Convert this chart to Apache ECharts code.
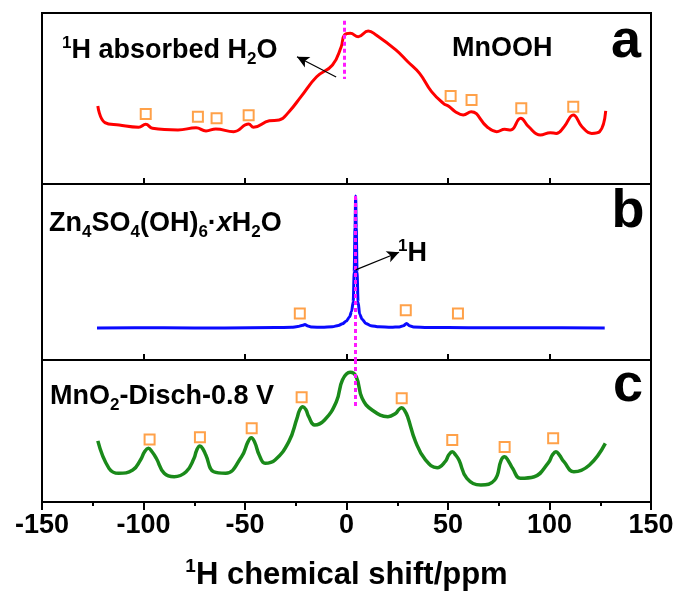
<!DOCTYPE html>
<html>
<head>
<meta charset="utf-8">
<script src="https://cdn.jsdelivr.net/npm/echarts@6/dist/echarts.min.js"></script>
<style>
  html, body { margin: 0; padding: 0; background: #fff; }
  #chart { width: 681px; height: 592px; }
</style>
</head>
<body>
<div id="chart"></div>
<script>
// 1H NMR spectra (chemical shift in ppm, intensity in arbitrary units 0-100 per panel)

// (a) MnOOH
const shiftA = [-122.5, -119, -112, -102.4, -98.9, -95.6, -83, -74.1, -69.2, -64.4, -55.6, -48.2, -45.8, -38, -33.2, -28.3, -22.4, -14.7, -6.9, -2.6, -1.0, 1.9, 5.8, 10.7, 14.6, 24.3, 30.2, 36, 41.9, 47.7, 50.7, 53.6, 57.5, 61.4, 69.2, 74, 77.9, 80.9, 85.8, 89.7, 95.5, 100.4, 103.3, 107.2, 111.7, 116, 120.8, 124.7, 127.7];
const intensityA = [45.6, 35.9, 34.5, 33.2, 34.9, 32.6, 31.6, 32.9, 31.0, 32.2, 30.6, 35.1, 33.2, 37.0, 37.4, 42.3, 51.1, 62.7, 69.6, 80.3, 87.1, 88.1, 86.1, 89.5, 87.1, 78.4, 71.5, 64.7, 54.0, 47.2, 45.2, 42.3, 40.4, 42.3, 33.5, 30.6, 32.0, 31.6, 38.4, 33.5, 28.7, 30.0, 29.6, 33.5, 40.4, 33.5, 29.6, 30.6, 42.7];
const sidebandShiftA = [-98.9, -73.2, -64, -48.2, 51.3, 61.6, 86.1, 111.7];
const sidebandLevelA = [40.9, 39.4, 38.4, 40.2, 51.5, 49.1, 44.3, 45.2];

// (b) Zn4SO4(OH)6·xH2O
const shiftB = [-122.9, -90, -60, -35, -27, -24, -21.5, -20.5, -19, -17, -12, -7, -4, -2, 0, 1.5, 2.5, 3.3, 3.8, 4.2, 4.5, 4.8, 5.2, 5.7, 6.5, 7.7, 9.5, 12, 16, 22, 26, 28, 29.6, 31, 33, 40, 60, 90, 127.2];
const intensityB = [18.2, 18.3, 18.2, 18.4, 18.6, 19.0, 19.8, 20.2, 19.3, 18.7, 18.6, 18.9, 19.6, 20.6, 22.2, 24.5, 27.6, 33, 50, 75, 93.2, 75, 50, 33, 26, 23.2, 20.8, 19.5, 18.9, 18.6, 18.8, 19.4, 20.8, 19.5, 18.8, 18.5, 18.3, 18.3, 18.2];
const sidebandShiftB = [-23, 29.2, 54.9];
const sidebandLevelB = [26.4, 28.2, 26.4];

// (c) MnO2 discharged to 0.8 V
const shiftC = [-122.5, -117, -112.2, -105.3, -101.5, -99.4, -97.6, -95.8, -93.7, -89.8, -84.9, -79, -75.1, -73.8, -72.2, -70.6, -69.3, -65.4, -59.5, -51.7, -48.5, -46.9, -45.2, -43, -40.1, -35.2, -28.4, -24.4, -23, -21.5, -20, -18.6, -15.7, -10.8, -5, -2.0, 1.8, 4.8, 7.7, 12.6, 20.4, 24.3, 25.7, 27.2, 28.7, 30.1, 34, 38.9, 44.7, 48.6, 50.4, 52.1, 53.8, 55.4, 59.3, 66.2, 73, 76.2, 77.9, 79.6, 81.8, 85.7, 92.5, 99.3, 101.5, 103.2, 104.9, 107.1, 112, 119.7, 127.5];
const intensityC = [43.0, 23.7, 20.2, 22.5, 29.6, 35.6, 37.8, 35.4, 30.8, 20.2, 17.8, 21.3, 30.8, 36.5, 39.4, 37.0, 33.1, 21.3, 20.2, 31.9, 42.5, 45.3, 42.0, 33.1, 27.3, 29.6, 42.5, 58.9, 65.0, 67.1, 65.0, 60.1, 54.2, 57.7, 70.6, 85.9, 91.3, 88.2, 73.0, 64.8, 60.1, 62.5, 65.0, 66.4, 64.3, 60.1, 42.5, 29.6, 24.2, 28.4, 33.2, 35.4, 33.0, 29.6, 16.7, 12.0, 15.5, 29.5, 31.9, 29.3, 23.7, 16.7, 17.8, 27.3, 33.2, 35.4, 33.0, 28.4, 21.3, 26.1, 41.3];
const sidebandShiftC = [-97, -72.2, -46.7, -22.1, 27.2, 52.1, 77.9, 101.8];
const sidebandLevelC = [44.1, 45.6, 51.9, 73.7, 73.0, 43.7, 38.7, 44.9];

// Reference positions of the 1H resonances (ppm) and guide-line extents
const waterShift = -1.2;
const waterGuide = [95.5, 61.4];
const protonShift = 4.5;
const protonGuideB = [93.2, 0];
const protonGuideC = [100, 66.9];
// Annotation arrows: [fromShift, fromLevel, toShift, toLevel]
const arrowA = [-5.1, 62.6, -24.4, 74.4];
const arrowB = [4.5, 51.2, 25.9, 61.2];

// Axis ticks
const shiftMin = -150, shiftMax = 150, shiftStep = 50;

const FONT = '"Liberation Sans", Arial, sans-serif';
const ORANGE = '#ff8a1c';
const MAGENTA = '#ff1aff';

const zip = (xs, ys) => xs.map((x, i) => [x, ys[i]]);

const rich = (size) => ({
  b: { fontSize: size, fontWeight: 'bold', fontFamily: FONT, color: '#000', lineHeight: size + 6 },
  i: { fontSize: size, fontWeight: 'bold', fontStyle: 'italic', fontFamily: FONT, color: '#000', lineHeight: size + 6 },
  sup: { fontSize: Math.round(size * 0.62), fontWeight: 'bold', fontFamily: FONT, color: '#000', verticalAlign: 'top' },
  sub: { fontSize: Math.round(size * 0.62), fontWeight: 'bold', fontFamily: FONT, color: '#000', verticalAlign: 'bottom' }
});

const grids = [
  { top: 13, height: 171 },
  { top: 184, height: 176 },
  { top: 360, height: 142 }
].map(g => Object.assign({ left: 42, right: 30, show: true, borderColor: '#000', borderWidth: 2, containLabel: false }, g));

const xAxes = [0, 1, 2].map(i => ({
  type: 'value', gridIndex: i, min: shiftMin, max: shiftMax, interval: shiftStep,
  axisLine: { show: false },
  axisTick: { show: true, inside: i < 2, length: i < 2 ? 6 : 8, lineStyle: { color: '#000', width: 2 } },
  minorTick: { show: i === 2, splitNumber: 2, length: 4, lineStyle: { color: '#000', width: 2 } },
  splitLine: { show: false },
  axisLabel: { show: i === 2, fontSize: 27, fontWeight: 'bold', fontFamily: FONT, color: '#000', margin: 10 },
  name: i === 2 ? '{sup|1}{b|H chemical shift/ppm}' : '',
  nameLocation: 'middle',
  nameGap: 55,
  nameTextStyle: { rich: rich(31) }
}));

const yAxes = [0, 1, 2].map(i => ({ type: 'value', gridIndex: i, min: 0, max: 100, show: false }));

const spectrum = (idx, shifts, vals, color, width, smooth, monotone) => ({
  type: 'line', xAxisIndex: idx, yAxisIndex: idx, data: zip(shifts, vals),
  showSymbol: false, smooth: smooth, smoothMonotone: monotone, z: 2,
  lineStyle: { color: color, width: width }
});

const guide = (shift, range) => [
  { coord: [shift, range[0]], symbol: 'none', lineStyle: { color: MAGENTA, width: 3, type: [4, 3] } },
  { coord: [shift, range[1]], symbol: 'none' }
];
const arrow = (a) => [
  { coord: [a[0], a[1]], symbol: 'none', lineStyle: { color: '#000', width: 1.2, type: 'solid' } },
  { coord: [a[2], a[3]], symbol: 'arrow', symbolSize: [9, 12] }
];

const sidebands = (idx, shifts, vals, lines) => ({
  type: 'scatter', xAxisIndex: idx, yAxisIndex: idx, data: zip(shifts, vals),
  symbol: 'rect', symbolSize: 10, z: 4,
  itemStyle: { color: 'rgba(255,255,255,0)', borderColor: ORANGE, borderWidth: 2 },
  markLine: { silent: true, animation: false, label: { show: false }, symbol: ['none', 'none'], data: lines }
});

const option = {
  animation: false,
  backgroundColor: '#fff',
  grid: grids,
  xAxis: xAxes,
  yAxis: yAxes,
  series: [
    spectrum(0, shiftA, intensityA, '#ff0000', 3, 0.45, null),
    spectrum(1, shiftB, intensityB, '#0a0aff', 3, 0.3, 'x'),
    spectrum(2, shiftC, intensityC, '#1a8a1a', 3.5, 0.45, null),
    sidebands(0, sidebandShiftA, sidebandLevelA, [guide(waterShift, waterGuide), arrow(arrowA)]),
    sidebands(1, sidebandShiftB, sidebandLevelB, [guide(protonShift, protonGuideB), arrow(arrowB)]),
    sidebands(2, sidebandShiftC, sidebandLevelC, [guide(protonShift, protonGuideC)])
  ],
  graphic: [
    { type: 'text', x: 62, y: 51, style: { text: '{sup|1}{b|H absorbed H}{sub|2}{b|O}', rich: rich(27), verticalAlign: 'middle' } },
    { type: 'text', x: 452, y: 49, style: { text: '{b|MnOOH}', rich: rich(27), verticalAlign: 'middle' } },
    { type: 'text', x: 626, y: 42, style: { text: 'a', font: 'bold 54px ' + FONT, fill: '#000', align: 'center', verticalAlign: 'middle' } },
    { type: 'text', x: 49, y: 224, style: { text: '{b|Zn}{sub|4}{b|SO}{sub|4}{b|(OH)}{sub|6}{b|·}{i|x}{b|H}{sub|2}{b|O}', rich: rich(27), verticalAlign: 'middle' } },
    { type: 'text', x: 398, y: 254, style: { text: '{sup|1}{b|H}', rich: rich(27), verticalAlign: 'middle' } },
    { type: 'text', x: 628, y: 212, style: { text: 'b', font: 'bold 54px ' + FONT, fill: '#000', align: 'center', verticalAlign: 'middle' } },
    { type: 'text', x: 50, y: 397, style: { text: '{b|MnO}{sub|2}{b|-Disch-0.8 V}', rich: rich(27), verticalAlign: 'middle' } },
    { type: 'text', x: 628, y: 386, style: { text: 'c', font: 'bold 54px ' + FONT, fill: '#000', align: 'center', verticalAlign: 'middle' } }
  ]
};

const chart = echarts.init(document.getElementById('chart'), null, { renderer: 'canvas' });
chart.setOption(option);
</script>
</body>
</html>
